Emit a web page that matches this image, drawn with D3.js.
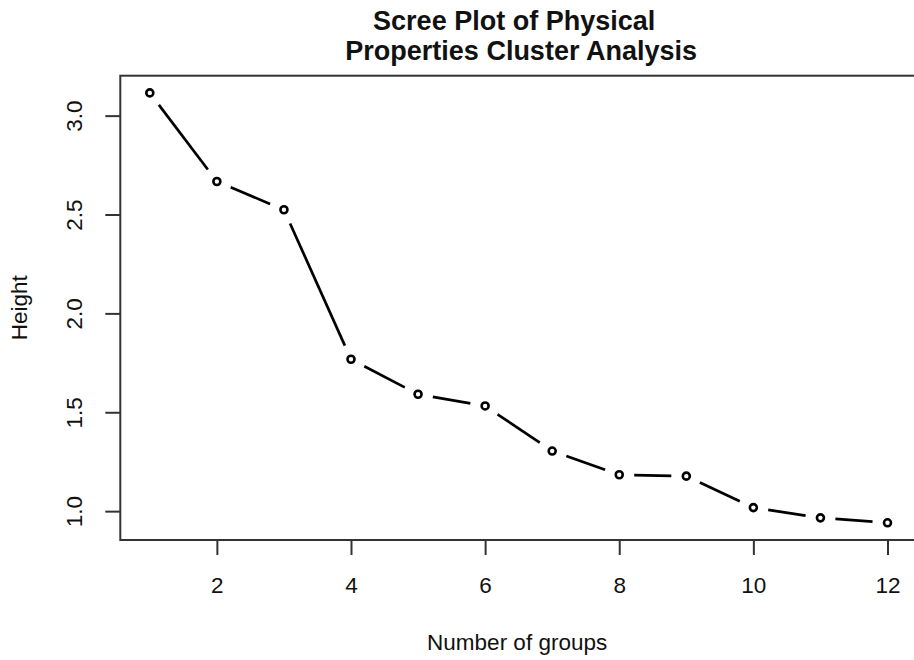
<!DOCTYPE html>
<html>
<head>
<meta charset="utf-8">
<script src="https://d3js.org/d3.v7.min.js"></script>
<style>
  body { margin: 0; background: #fff; }
  text { font-family: "Liberation Sans", Arial, sans-serif; fill: #111; }
</style>
</head>
<body>
<div id="chart-container"></div>
<script>
"use strict"

// number of groups and merge heights
const groups = [1, 2, 3, 4, 5, 6, 7, 8, 9, 10, 11, 12];
const heights = [3.115, 2.667, 2.524, 1.768, 1.591, 1.532, 1.304, 1.184, 1.177, 1.018, 0.966, 0.941];
const xTicks = [2, 4, 6, 8, 10, 12];
const yTicks = [1.0, 1.5, 2.0, 2.5, 3.0];
const titleLines = ["Scree Plot of Physical", "Properties Cluster Analysis"];

document.addEventListener('DOMContentLoaded', function(){
  drawChart();
});

function drawChart(){

  let svgWidth = 914;
  let svgHeight = 660;
  let left = 120.3, right = 917, top = 75.7, bottom = 540;

  var svg = d3.select('#chart-container')
    .append('svg')
    .attr('width', svgWidth)
    .attr('height', svgHeight);

  // R style axis limits: data range padded by 4% each side
  let xExt = d3.extent(groups);
  let xPad = (xExt[1] - xExt[0]) * 0.04;
  let yExt = d3.extent(heights);
  let yPad = (yExt[1] - yExt[0]) * 0.04;

  let xScale = d3.scaleLinear()
    .domain([xExt[0] - xPad, xExt[1] + xPad])
    .range([left, right]);

  let yScale = d3.scaleLinear()
    .domain([yExt[0] - yPad, yExt[1] + yPad])
    .range([bottom, top]);

  /***************************************
   AXES
  ***************************************/
  const xAxis = d3.axisBottom(xScale)
    .tickValues(xTicks)
    .tickSize(15)
    .tickPadding(22)
    .tickFormat(d3.format('d'));

  const yAxis = d3.axisLeft(yScale)
    .tickValues(yTicks)
    .tickSize(15)
    .tickFormat(d3.format('.1f'));

  let gx = svg.append('g')
    .attr('transform', 'translate(0,' + bottom + ')')
    .call(xAxis);
  gx.select('.domain').remove();
  gx.selectAll('line').attr('stroke', '#333').attr('stroke-width', 2);
  gx.selectAll('text')
    .attr('font-size', 22.5)
    .attr('fill', '#111')
    .attr('font-family', '"Liberation Sans", Arial, sans-serif');

  let gy = svg.append('g')
    .attr('transform', 'translate(' + left + ',0)')
    .call(yAxis);
  gy.select('.domain').remove();
  gy.selectAll('line').attr('stroke', '#333').attr('stroke-width', 2);
  // rotated tick labels like R's default las=0
  gy.selectAll('text')
    .attr('font-size', 22.5)
    .attr('fill', '#111')
    .attr('font-family', '"Liberation Sans", Arial, sans-serif')
    .attr('text-anchor', 'middle')
    .attr('dy', 0)
    .attr('x', 0)
    .attr('transform', function(d) { return 'translate(-38,0) rotate(-90)'; });

  // box around the plot region
  svg.append('rect')
    .attr('x', left)
    .attr('y', top)
    .attr('width', right - left)
    .attr('height', bottom - top)
    .attr('fill', 'none')
    .attr('stroke', '#333')
    .attr('stroke-width', 2);

  /***************************************
   LINE (type = "b": segments with gaps)
  ***************************************/
  let pts = groups.map((g, i) => [xScale(g), yScale(heights[i])]);
  let gap = 15;
  let segs = [];
  for (let i = 0; i < pts.length - 1; i++) {
    let a = pts[i], b = pts[i + 1];
    let dx = b[0] - a[0], dy = b[1] - a[1];
    let len = Math.sqrt(dx * dx + dy * dy);
    if (len > 2 * gap) {
      let ux = dx / len, uy = dy / len;
      segs.push([a[0] + ux * gap, a[1] + uy * gap, b[0] - ux * gap, b[1] - uy * gap]);
    }
  }

  svg.selectAll('line.seg')
    .data(segs)
    .enter()
    .append('line')
    .attr('class', 'seg')
    .attr('x1', d => d[0])
    .attr('y1', d => d[1])
    .attr('x2', d => d[2])
    .attr('y2', d => d[3])
    .attr('stroke', '#000')
    .attr('stroke-width', 2.7);

  svg.selectAll('circle')
    .data(groups)
    .enter()
    .append('circle')
    .attr('cx', d => xScale(d))
    .attr('cy', (d, i) => yScale(heights[i]))
    .attr('r', 3.5)
    .attr('fill', 'none')
    .attr('stroke', '#000')
    .attr('stroke-width', 2.6);

  /***************************************
   TITLES
  ***************************************/
  let cx = (left + right) / 2;
  svg.selectAll('text.title')
    .data(titleLines)
    .enter()
    .append('text')
    .attr('class', 'title')
    .attr('x', (d, i) => i === 0 ? cx - 4.5 : cx + 2.5)
    .attr('y', (d, i) => 30 + i * 30)
    .attr('text-anchor', 'middle')
    .attr('font-size', 27)
    .attr('font-weight', 'bold')
    .text(d => d);

  svg.append('text')
    .attr('x', cx - 1.5)
    .attr('y', 650)
    .attr('text-anchor', 'middle')
    .attr('font-size', 22.5)
    .text('Number of groups');

  svg.append('text')
    .attr('transform', 'translate(27,' + ((top + bottom) / 2) + ') rotate(-90)')
    .attr('text-anchor', 'middle')
    .attr('font-size', 22.5)
    .text('Height');
}
</script>
</body>
</html>
